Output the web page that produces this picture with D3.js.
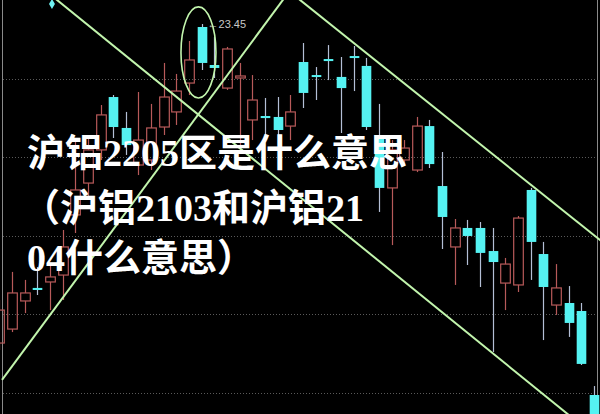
<!DOCTYPE html>
<html><head><meta charset="utf-8">
<script src="https://cdn.jsdelivr.net/npm/d3@7/dist/d3.min.js"></script>
<style>html,body{margin:0;padding:0;background:#000;overflow:hidden}</style>
</head><body><svg id="c" width="600" height="414"></svg>
<script>
// candle data (price units)
const opens  = [21.418,21.507,21.686,21.769,21.807,21.851,22.234,22.437,22.648,22.985,22.788,22.552,22.584,22.794,22.890,23.074,23.431,23.189,23.042,23.113,22.839,22.864,22.858,22.800,23.208,23.125,23.227,23.113,23.246,23.183,22.743,22.406,22.584,22.520,22.800,22.418,22.030,22.151,22.151,22.004,21.800,21.788,22.393,21.985,21.660,21.673,21.622,21.087];
const closes = [21.628,21.737,21.737,21.756,21.839,22.030,22.393,22.648,22.871,22.794,22.679,22.711,22.788,22.985,23.023,23.221,23.202,23.170,23.291,23.119,22.966,22.851,22.775,22.890,23.011,23.113,23.214,23.042,23.234,22.794,22.406,22.648,22.660,22.800,22.558,22.221,22.151,22.100,21.992,21.934,21.921,22.214,22.062,21.775,21.769,21.546,21.285,20.928];
const highs  = [21.692,21.871,21.820,21.902,21.915,22.138,22.711,22.743,22.934,22.998,22.890,23.017,22.941,23.202,23.132,23.342,23.450,23.367,23.304,23.202,23.125,22.979,22.985,22.998,23.329,23.176,23.316,23.240,23.310,23.234,22.941,22.711,22.711,22.858,22.839,22.635,22.208,22.202,22.189,22.151,21.960,22.227,22.406,22.062,21.921,21.781,21.673,21.144];
const lows   = [21.374,21.488,21.609,21.724,21.628,21.692,22.119,22.348,22.584,22.724,22.616,22.488,22.520,22.743,22.807,22.998,23.157,23.106,23.030,22.648,22.711,22.711,22.679,22.711,22.915,22.966,23.093,22.756,23.023,22.775,22.253,22.042,22.546,22.507,22.533,22.017,21.788,21.915,21.775,21.361,21.628,21.743,21.820,21.437,21.597,21.457,21.278,20.896];
const gridPrices = [23.1, 22.6, 22.1, 21.6, 21.1];
// trend lines as [candle index, price] pairs
const trendA = [[3.58, 23.667], [45.9, 20.902]];
const trendB = [[0.21, 21.183], [23.0, 23.667]];
const trendC = [[22.78, 23.667], [48.27, 22.023]];
const ellipseCenter = [15.74, 23.269];
const ellipseRadius = [1.383, 0.290];
const highLabelIndex = 16;
const highLabelText = "23.45";
const markerPoint = [4.16, 23.578];
const titleLines = ["沪铝2205区是什么意思", "（沪铝2103和沪铝21", "04什么意思）"];

const W = 600, H = 414;
const svg = d3.select("#c");
svg.append("rect").attr("width", W).attr("height", H).attr("fill", "#000");

const idx = d3.range(opens.length);
const x = d3.scaleLinear().domain([0, 47]).range([-0.65, 593.9]);
const y = d3.scaleLinear().domain([20.966, 23.603]).range([414, 0]);
const bw = (x(1) - x(0)) * 0.76;

// grid
svg.append("g").selectAll("line").data(gridPrices).join("line")
  .attr("x1", 3).attr("x2", 597)
  .attr("y1", d => Math.round(y(d)) + 0.5).attr("y2", d => Math.round(y(d)) + 0.5)
  .attr("stroke", "#5a5a5a").attr("stroke-width", 1).attr("stroke-dasharray", "1,2");

// frame
svg.append("line").attr("x1", 2.5).attr("x2", 2.5).attr("y1", 0).attr("y2", H).attr("stroke", "#8a8a8a");
svg.append("line").attr("x1", 597.5).attr("x2", 597.5).attr("y1", 0).attr("y2", H).attr("stroke", "#8a8a8a");

const RED = "#b85a5a", CYAN = "#55f2f2", CYANWICK = "#b4bfd6";
const cg = svg.append("g");
idx.forEach(i => {
  const o = opens[i], c = closes[i], h = highs[i], l = lows[i];
  const up = c >= o;
  const cx = Math.round(x(i)) + 0.5;
  const top = y(Math.max(o, c)), bot = y(Math.min(o, c));
  const bh = Math.max(bot - top, 2);
  const g = cg.append("g");
  if (up) {
    g.append("line").attr("x1", cx).attr("x2", cx).attr("y1", y(h)).attr("y2", top).attr("stroke", RED).attr("stroke-width", 1.2);
    g.append("line").attr("x1", cx).attr("x2", cx).attr("y1", top + bh).attr("y2", y(l)).attr("stroke", RED).attr("stroke-width", 1.2);
    g.append("rect").attr("x", cx - bw / 2).attr("y", top).attr("width", bw).attr("height", bh)
      .attr("fill", "none").attr("stroke", RED).attr("stroke-width", 1.2);
  } else {
    g.append("line").attr("x1", cx).attr("x2", cx).attr("y1", y(h)).attr("y2", y(l)).attr("stroke", CYANWICK).attr("stroke-width", 1.2);
    g.append("rect").attr("x", cx - bw / 2).attr("y", top).attr("width", bw).attr("height", bh)
      .attr("fill", CYAN);
  }
});

// high label
const hx = x(highLabelIndex) + bw / 2 + 1, hy = y(highs[highLabelIndex]);
svg.append("text").attr("x", hx).attr("y", hy + 4)
  .attr("font-family", "Liberation Sans, Arial, sans-serif").attr("font-size", 11)
  .attr("fill", "#c8c8c8").text("←" + highLabelText);

// marker
svg.append("path").attr("d", d3.symbol(d3.symbolDiamond, 30)())
  .attr("transform", `translate(${x(markerPoint[0])},${y(markerPoint[1])})`).attr("fill", "#6ff0f0");

// trend lines
const lineGen = d3.line().x(d => x(d[0])).y(d => y(d[1]));
const GREEN = "#c2f5ad";
[trendA, trendB, trendC].forEach(t => {
  svg.append("path").attr("d", lineGen(t)).attr("stroke", GREEN).attr("stroke-width", 2).attr("fill", "none");
});
svg.append("ellipse")
  .attr("cx", x(ellipseCenter[0])).attr("cy", y(ellipseCenter[1]))
  .attr("rx", x(ellipseRadius[0]) - x(0)).attr("ry", y(23.0 - ellipseRadius[1]) - y(23.0))
  .attr("fill", "none").attr("stroke", GREEN).attr("stroke-width", 1.6);

// title overlay
const tg = svg.append("g").attr("font-family", "'Liberation Serif','Noto Sans CJK SC',serif")
  .attr("font-weight", "bold").attr("font-size", 38).attr("fill", "#ffffff");
const baselines = [166, 221, 271];
const xs = [27, 22, 27];
titleLines.forEach((t, k) => {
  tg.append("text").attr("x", xs[k]).attr("y", baselines[k]).text(t);
});
</script></body></html>
